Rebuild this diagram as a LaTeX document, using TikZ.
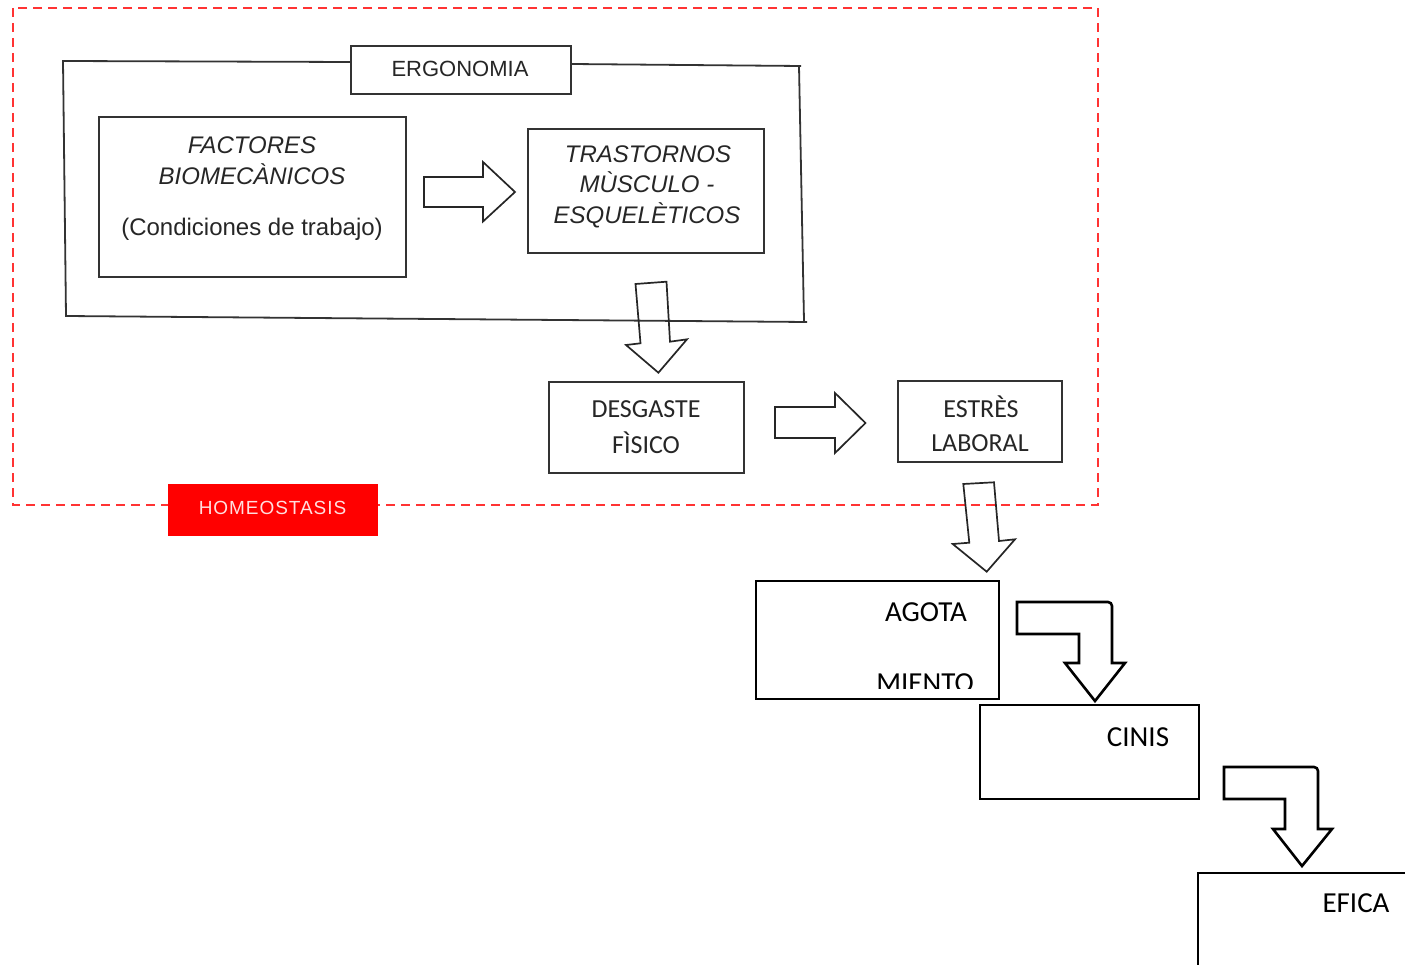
\documentclass[tikz,border=0pt]{standalone}
\usepackage{fontspec}
\setmainfont{Liberation Sans}
\newfontfamily\calib{Carlito}
\newfontfamily\homf[LetterSpace=5]{Liberation Sans}
\definecolor{dred}{RGB}{255,51,51}
\definecolor{hred}{RGB}{255,0,0}
\definecolor{htext}{RGB}{255,222,222}
\begin{document}
\begin{tikzpicture}[x=1pt,y=-1pt,
  tbox/.style={draw=black!80, line width=2pt, inner sep=0pt, outer sep=0pt},
  bbox/.style={draw=black, line width=2.8pt, inner sep=0pt, outer sep=0pt},
  blk/.style={draw=black!85, line width=1.7pt, line join=miter},
  bblk/.style={draw=black, line width=2.6pt, line join=miter},
  framel/.style={draw=black!80, line width=1.8pt},
  reddash/.style={draw=dred, line width=2.6pt, dash pattern=on 9pt off 6pt},
  ttxt/.style={inner sep=0pt, anchor=base, text=black!85, font=\fontsize{24}{28}\selectfont},
  ctxt/.style={inner sep=0pt, anchor=base, text=black!85, font=\calib\fontsize{26}{30}\selectfont},
  btxt/.style={inner sep=0pt, anchor=base, text=black, font=\calib\fontsize{29}{33}\selectfont}
]
\useasboundingbox (0,0) rectangle (1405,965);
\clip (0,0) rectangle (1405,965);

% red dashed homeostasis frame
\draw[reddash] (13,8) rectangle (1098,505);

% ergonomia frame
\draw[framel] (351,62) -- (63,61) -- (66,316) -- (807,322);
\draw[framel] (571,64) -- (801,66);
\draw[framel] (799,66) -- (804,321);

% boxes
\node[tbox, fill=white, minimum width=220pt, minimum height=48pt] (ergo) at (461,70.5) {};
\node[tbox, minimum width=307pt, minimum height=160pt] (fac) at (252.5,197) {};
\node[tbox, minimum width=236pt, minimum height=124pt] (tras) at (646,191) {};
\node[tbox, minimum width=195pt, minimum height=91pt] (desg) at (646.5,427.5) {};
\node[tbox, minimum width=164pt, minimum height=81pt] (estr) at (980,421.5) {};
\node[draw=hred, fill=hred, line width=1pt, inner sep=0pt, minimum width=209pt, minimum height=51pt] (homeo) at (272.5,509.5) {};
\node[bbox, minimum width=243pt, minimum height=118pt] (agot) at (877.5,640) {};
\node[bbox, minimum width=219pt, minimum height=94pt] (cinis) at (1089.5,752) {};
\node[bbox, minimum width=252pt, minimum height=177pt] (efica) at (1324,961.5) {};

% texts
\node[ttxt, font=\fontsize{22}{26}\selectfont] (ergoT) at (460,77) {ERGONOMIA};
\node[ttxt, font=\itshape\fontsize{24}{28}\selectfont] (facT1) at (252,153.6) {FACTORES};
\node[ttxt, font=\itshape\fontsize{24}{28}\selectfont] (facT2) at (252,184.6) {BIOMECÀNICOS};
\node[ttxt] (facT3) at (252,235.6) {(Condiciones de trabajo)};
\node[ttxt, font=\itshape\fontsize{24}{28}\selectfont] (trasT1) at (648,162.6) {TRASTORNOS};
\node[ttxt, font=\itshape\fontsize{24}{28}\selectfont] (trasT2) at (647,192.6) {MÙSCULO -};
\node[ttxt, font=\itshape\fontsize{24}{28}\selectfont] (trasT3) at (647,223.6) {ESQUELÈTICOS};
\node[ctxt] (desgT1) at (646,417.4) {DESGASTE};
\node[ctxt] (desgT2) at (646,453.4) {FÌSICO};
\node[ctxt] (estrT1) at (981,417.4) {ESTRÈS};
\node[ctxt] (estrT2) at (980,451.4) {LABORAL};
\node[inner sep=0pt, anchor=base, text=htext, font=\homf\fontsize{19}{23}\selectfont] (homeoT) at (272.5,514.5) {HOMEOSTASIS};
\node[btxt] (agotT1) at (926,621.3) {AGOTA};
\begin{scope}
  \clip (757,582) rectangle (998,688);
  \node[btxt] (agotT2) at (925,692.5) {MIENTO};
\end{scope}
\node[btxt] (cinisT) at (1138,746.3) {CINIS};
\node[btxt] (eficaT) at (1356,912.3) {EFICA};

% block arrows (top part)
\draw[blk] (424,177) -- (483,177) -- (483,162) -- (515,192) -- (483,221.5) -- (483,207) -- (424,207) -- cycle;
\draw[blk] (635.5,284) -- (666.5,281.7) -- (670,341.7) -- (687,339.3) -- (658.4,372.7) -- (626,345) -- (640.5,343.3) -- cycle;
\draw[blk] (775,407) -- (835,407) -- (835,393) -- (865.5,423) -- (835,453) -- (835,438) -- (775,438) -- cycle;
\draw[blk] (963.3,484) -- (994,482.3) -- (999,541) -- (1015,539.3) -- (986.7,571.7) -- (952.7,544) -- (969.3,542.7) -- cycle;

% bent arrows (bottom part)
\draw[bblk] (1017,602) -- (1108,602) to[out=0,in=90] (1112,606) -- (1112,663) -- (1125,663) -- (1095,701) -- (1065,663) -- (1079,663) -- (1079,634) -- (1017,634) -- cycle;
\draw[bblk] (1224,767) -- (1314,767) to[out=0,in=90] (1318,771) -- (1318,829) -- (1332,829) -- (1302,866) -- (1273,829) -- (1285,829) -- (1285,799) -- (1224,799) -- cycle;
\end{tikzpicture}
\end{document}
